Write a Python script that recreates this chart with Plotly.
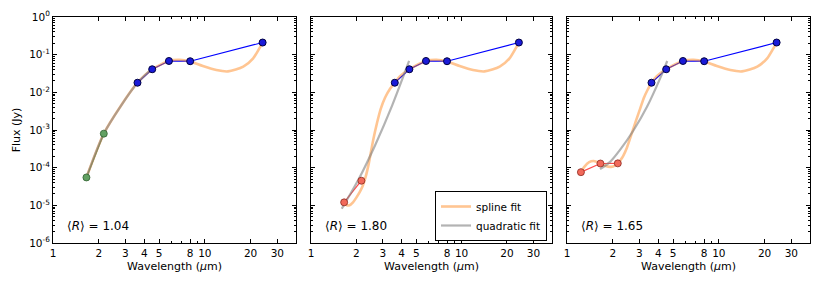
import plotly.graph_objects as go

# ---------------- data ----------------
wl_irac = [3.6, 4.5, 5.8, 8.0, 24.0]
flux_irac = [0.018, 0.041, 0.068, 0.067, 0.21]

wl_nir_1 = [1.66, 2.16]
flux_nir_1 = [5.5e-5, 8e-4]
wl_nir_2 = [1.66, 2.16]
flux_nir_2 = [1.2e-5, 4.5e-5]
wl_nir_3 = [1.235, 1.66, 2.16]
flux_nir_3 = [7.6e-5, 1.29e-4, 1.3e-4]

wl_spl_tail = [5.8, 6.8, 8.0, 9.7, 11.9, 14.2, 17.9, 20.8, 22.8, 24.0]
flux_spl_tail = [0.068, 0.073, 0.066, 0.05, 0.039, 0.036, 0.048, 0.08, 0.145, 0.21]

wl_spl_1 = [1.66, 2.16, 2.78, 3.6, 4.5] + wl_spl_tail
flux_spl_1 = [5.5e-5, 8e-4, 4.2e-3, 0.018, 0.041] + flux_spl_tail
wl_spl_2 = [1.66, 1.72, 1.8, 1.9, 2.0, 2.1, 2.2, 2.3, 2.42, 2.59, 2.75, 2.9, 3.1, 3.35, 3.6, 3.9, 4.5] + wl_spl_tail
flux_spl_2 = [1.2e-5, 1.02e-5, 1.0e-5, 1.2e-5, 1.6e-5, 2.2e-5, 3.2e-5, 5.5e-5, 1.3e-4, 5.5e-4, 1.6e-3, 3.6e-3, 7.2e-3, 1.25e-2, 0.018, 0.027, 0.041] + flux_spl_tail
wl_spl_3 = [1.235, 1.3, 1.4, 1.5, 1.66, 1.8, 1.95, 2.08, 2.16, 2.3, 2.48, 2.68, 2.85, 3.04, 3.2, 3.37, 3.6, 3.9, 4.5] + wl_spl_tail
flux_spl_3 = [7.6e-5, 1.05e-4, 1.4e-4, 1.5e-4, 1.29e-4, 1.1e-4, 1.05e-4, 1.15e-4, 1.3e-4, 1.8e-4, 3.4e-4, 8.5e-4, 1.8e-3, 3.8e-3, 7e-3, 1.1e-2, 0.018, 0.027, 0.041] + flux_spl_tail

wl_quad_1 = [1.66, 2.16, 2.78, 3.6, 4.5]
flux_quad_1 = [5.5e-5, 8e-4, 4.2e-3, 0.018, 0.043]
wl_quad_2 = [1.60, 2.07, 2.67, 3.46, 4.48]
flux_quad_2 = [8.1e-6, 4.9e-5, 4.0e-4, 4.5e-3, 0.068]
wl_quad_3 = [1.65, 1.93, 2.24, 2.75, 3.37, 4.13, 4.57]
flux_quad_3 = [9.1e-5, 1.45e-4, 3e-4, 1e-3, 4.2e-3, 0.025, 0.068]

mean_R = ["1.04", "1.80", "1.65"]

x_tickvals = [1, 2, 3, 4, 5, 8, 10, 20, 30]
x_ticktext = ["1", "2", "3", "4", "5", "8", "10", "20", "30"]
y_tickvals = [1e-6, 1e-5, 1e-4, 1e-3, 1e-2, 1e-1, 1]
y_ticktext = ["10<sup>-6</sup>", "10<sup>-5</sup>", "10<sup>-4</sup>", "10<sup>-3</sup>",
              "10<sup>-2</sup>", "10<sup>-1</sup>", "10<sup>0</sup>"]

# ---------------- style ----------------
FONT = "DejaVu Sans"
SPL_COL = "rgba(255,127,14,0.45)"
QUAD_COL = "rgba(128,128,128,0.6)"
nir_styles = [
    dict(fill="#62a062", edge="#2f5f2f", line="#4c9a4c"),
    dict(fill="#f2695a", edge="#8a2a20", line="#ff4a4a"),
    dict(fill="#f2695a", edge="#8a2a20", line="#ff4a4a"),
]
domains = [[0.0, 243 / 757], [258 / 757, 499 / 757], [514 / 757, 1.0]]

panels = [
    (wl_nir_1, flux_nir_1, wl_spl_1, flux_spl_1, wl_quad_1, flux_quad_1),
    (wl_nir_2, flux_nir_2, wl_spl_2, flux_spl_2, wl_quad_2, flux_quad_2),
    (wl_nir_3, flux_nir_3, wl_spl_3, flux_spl_3, wl_quad_3, flux_quad_3),
]

fig = go.Figure()
y_minor = [m * 10.0 ** e for e in range(-6, 0) for m in range(2, 10)]

for i, (wn, fn, ws, fs, wq, fq) in enumerate(panels):
    xa = "x" if i == 0 else f"x{i+1}"
    ya = "y" if i == 0 else f"y{i+1}"
    st = nir_styles[i]
    fig.add_trace(go.Scatter(x=wl_irac, y=flux_irac, mode="lines",
                             line=dict(color="#0000ff", width=1.2),
                             xaxis=xa, yaxis=ya, showlegend=False, hoverinfo="skip"))
    fig.add_trace(go.Scatter(x=wn, y=fn, mode="lines",
                             line=dict(color=st["line"], width=1.2),
                             xaxis=xa, yaxis=ya, showlegend=False, hoverinfo="skip"))
    fig.add_trace(go.Scatter(x=ws, y=fs, mode="lines", name="spline fit",
                             line=dict(color=SPL_COL, width=2.6, shape="spline", smoothing=0.7),
                             xaxis=xa, yaxis=ya, showlegend=(i == 1)))
    fig.add_trace(go.Scatter(x=wq, y=fq, mode="lines", name="quadratic fit",
                             line=dict(color=QUAD_COL, width=2.2, shape="spline", smoothing=0.8),
                             xaxis=xa, yaxis=ya, showlegend=(i == 1)))
    fig.add_trace(go.Scatter(x=wl_irac, y=flux_irac, mode="markers",
                             marker=dict(color="#1a1ad8", size=7, line=dict(color="#000040", width=1)),
                             xaxis=xa, yaxis=ya, showlegend=False))
    fig.add_trace(go.Scatter(x=wn, y=fn, mode="markers",
                             marker=dict(color=st["fill"], size=7, line=dict(color=st["edge"], width=0.8)),
                             xaxis=xa, yaxis=ya, showlegend=False))

    axis_common = dict(showline=True, linecolor="black", linewidth=1, mirror="allticks",
                       ticks="inside", ticklen=4, tickcolor="black", showgrid=False,
                       zeroline=False, automargin=False,
                       tickfont=dict(family=FONT, size=10.5, color="black"))
    xkey = "xaxis" if i == 0 else f"xaxis{i+1}"
    ykey = "yaxis" if i == 0 else f"yaxis{i+1}"
    fig.layout[xkey] = dict(type="log", range=[0, 1.6], domain=domains[i], anchor=ya,
                            tickvals=x_tickvals, ticktext=x_ticktext,
                            minor=dict(tickvals=[6, 7, 9], ticks="inside", ticklen=2, tickcolor="black"),
                            title=dict(text="Wavelength (<i>μ</i>m)", standoff=4,
                                       font=dict(family=FONT, size=11, color="black")),
                            **axis_common)
    fig.layout[ykey] = dict(type="log", range=[-6, 0], domain=[0, 1], anchor=xa,
                            tickvals=y_tickvals, ticktext=y_ticktext,
                            showticklabels=(i == 0),
                            minor=dict(tickvals=y_minor, ticks="inside", ticklen=2, tickcolor="black"),
                            title=dict(text="Flux (Jy)" if i == 0 else "", standoff=6,
                                       font=dict(family=FONT, size=11, color="black")),
                            **axis_common)
    fig.add_annotation(xref=f"{xa} domain", yref=f"{ya} domain", x=0.05, y=0.075,
                       xanchor="left", yanchor="middle", showarrow=False,
                       text=f"⟨<i>R</i>⟩ = {mean_R[i]}",
                       font=dict(family=FONT, size=12, color="black"))

fig.update_layout(
    width=822, height=288,
    margin=dict(l=53, r=12, t=17, b=45),
    paper_bgcolor="white", plot_bgcolor="white",
    font=dict(family=FONT, size=11, color="black"),
    legend=dict(x=(547 - 53) / 757, y=(243 - 241) / 226, xanchor="right", yanchor="bottom",
                bordercolor="black", borderwidth=1, bgcolor="white",
                font=dict(family=FONT, size=10.5, color="black"),
                tracegroupgap=0, itemwidth=30),
)

fig.write_html("out.html", config={"displayModeBar": False},
               post_script="document.body.style.margin='0';document.body.style.overflow='hidden';")
